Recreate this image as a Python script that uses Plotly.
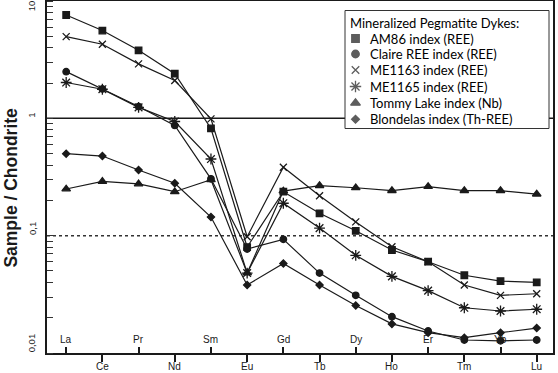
import math
import plotly.graph_objects as go

elements = ["La", "Ce", "Pr", "Nd", "Sm", "Eu", "Gd", "Tb", "Dy", "Ho", "Er", "Tm", "Yb", "Lu"]
am86 = [7.6, 5.6, 3.8, 2.4, 0.82, 0.080, 0.237, 0.155, 0.110, 0.0755, 0.060, 0.046, 0.041, 0.040]
claire = [2.5, 1.78, 1.26, 0.87, 0.305, 0.077, 0.093, 0.048, 0.031, 0.0204, 0.0154, 0.0129, 0.0127, 0.0129]
me1163 = [4.97, 4.28, 2.91, 2.1, 0.99, 0.098, 0.383, 0.219, 0.131, 0.0805, 0.060, 0.038, 0.031, 0.032]
me1165 = [2.02, 1.77, 1.24, 0.94, 0.45, 0.048, 0.189, 0.116, 0.068, 0.045, 0.034, 0.0243, 0.0228, 0.0236]
tommy = [0.25, 0.29, 0.276, 0.237, 0.30, 0.048, 0.24, 0.267, 0.256, 0.242, 0.262, 0.242, 0.242, 0.226]
blondelas = [0.50, 0.477, 0.363, 0.28, 0.144, 0.038, 0.058, 0.038, 0.0254, 0.0177, 0.0149, 0.0135, 0.0149, 0.0163]

y_tick_vals = [0.01, 0.1, 1, 10]
y_tick_text = ["0,01", "0,1", "1", "10"]
legend_title = "Mineralized Pegmatite Dykes:"

# name, values, symbol, plot marker size, legend marker size
series = [
    ("AM86 index (REE)", am86, "square", 6.5, 7.5),
    ("Claire REE index (REE)", claire, "circle", 6.5, 7.5),
    ("ME1163 index (REE)", me1163, "x-thin", 7, 7.5),
    ("ME1165 index (REE)", me1165, "asterisk", 9, 9.5),
    ("Tommy Lake index (Nb)", tommy, "triangle-up", 7.5, 8.5),
    ("Blondelas index (Th-REE)", blondelas, "diamond", 5.5, 6),
]

INK = "#1a1a1a"
LBL_FONT = dict(family="Liberation Sans, Arial", size=10, color=INK)

x = list(range(len(elements)))
fig = go.Figure()
for name, vals, sym, sz, _ in series:
    fig.add_trace(go.Scatter(
        x=x, y=vals, mode="lines+markers", name=name, showlegend=False,
        line=dict(color=INK, width=1.2),
        marker=dict(symbol=sym, size=sz, color=INK, line=dict(color=INK, width=1.3)),
    ))

# ---- hand-made legend, placed on an overlay axis measured in pixels ----
leg_box = dict(x0=345, x1=549, y0=10.5, y1=128.5)
row_y = [38.5, 54, 70, 86.5, 103, 119.3]
mark_x = 355.5
text_x = 368
fig.add_trace(go.Scatter(
    x=[mark_x] * len(series), y=row_y, mode="markers", showlegend=False,
    xaxis="x2", yaxis="y2", hoverinfo="skip",
    marker=dict(symbol=[s[2] for s in series], size=[s[4] for s in series],
                color=INK, line=dict(color=INK, width=1.3)),
))

# reference lines at 1 and 0.1
fig.add_hline(y=1, line=dict(color=INK, width=1.5), layer="below")
fig.add_hline(y=0.1, line=dict(color="#333", width=1.5, dash="dot"), layer="below")
fig.add_shape(type="rect", xref="x2", yref="y2", layer="below",
              fillcolor="white", line=dict(color="#333", width=1), **leg_box)

LEG_FONT = dict(family="Lato", size=13, color="black")
fig.add_annotation(xref="x2", yref="y2", x=348, y=22.5, xanchor="left", yanchor="middle",
                   text=legend_title, showarrow=False, font=LEG_FONT)
for (name, *_), yy in zip(series, row_y):
    fig.add_annotation(xref="x2", yref="y2", x=text_x, y=yy, xanchor="left", yanchor="middle",
                       text=name, showarrow=False, font=LEG_FONT)

# element labels: even ones inside the plot, odd ones below the axis
for i, el in enumerate(elements):
    if i % 2 == 0:
        fig.add_annotation(x=i, y=0, xref="x", yref="paper", yanchor="bottom", yshift=6,
                           text=el, showarrow=False, font=LBL_FONT)
    else:
        fig.add_annotation(x=i, y=0, xref="x", yref="paper", yanchor="top", yshift=-6,
                           text=el, showarrow=False, font=LBL_FONT)

# y tick labels, rotated, running upward from their tick
for v, t in zip(y_tick_vals, y_tick_text):
    top = v == y_tick_vals[-1]
    fig.add_annotation(x=-0.030, y=math.log10(v), xref="paper", yref="y",
                       xanchor="center", yanchor="top" if top else "bottom",
                       yshift=3 if top else -1, textangle=-90,
                       text=t, showarrow=False, font=dict(family="Liberation Sans, Arial", size=9.5, color=INK))

fig.add_annotation(x=-0.073, y=0.47, xref="paper", yref="paper", textangle=-90,
                   xanchor="center", yanchor="middle", showarrow=False,
                   text="<b>Sample / Chondrite</b>",
                   font=dict(family="Liberation Sans, Arial", size=17.5, color=INK))

fig.update_xaxes(
    range=[-0.53, 13.45], showgrid=False, zeroline=False, showticklabels=False,
    tickmode="array", tickvals=x[1::2],
    ticks="outside", ticklen=7, tickwidth=1.5, tickcolor=INK,
    showline=True, linewidth=2, linecolor=INK, mirror=True,
    minor=dict(tickmode="array", tickvals=x[0::2], ticks="inside", ticklen=6,
               tickwidth=1.5, tickcolor=INK, showgrid=False),
    automargin=False,
)
fig.update_yaxes(
    type="log", range=[-2, 1], showgrid=False, zeroline=False, showticklabels=False,
    tickmode="array", tickvals=y_tick_vals, ticks="",
    showline=True, linewidth=2, linecolor=INK, mirror=True,
    minor=dict(ticks="inside", ticklen=6, tickwidth=1.3, tickcolor="#333", dtick="D1", showgrid=False),
    automargin=False,
)

fig.update_layout(
    width=558, height=373,
    margin=dict(l=47, r=5, t=1, b=20),
    paper_bgcolor="white", plot_bgcolor="white",
    showlegend=False, hovermode=False,
    xaxis2=dict(overlaying="x", range=[47, 553], visible=False, fixedrange=True),
    yaxis2=dict(overlaying="y", range=[353, 1], visible=False, fixedrange=True),
)

fig.write_html("out.html", config={"displayModeBar": False},
               post_script="document.body.style.margin='0';")
